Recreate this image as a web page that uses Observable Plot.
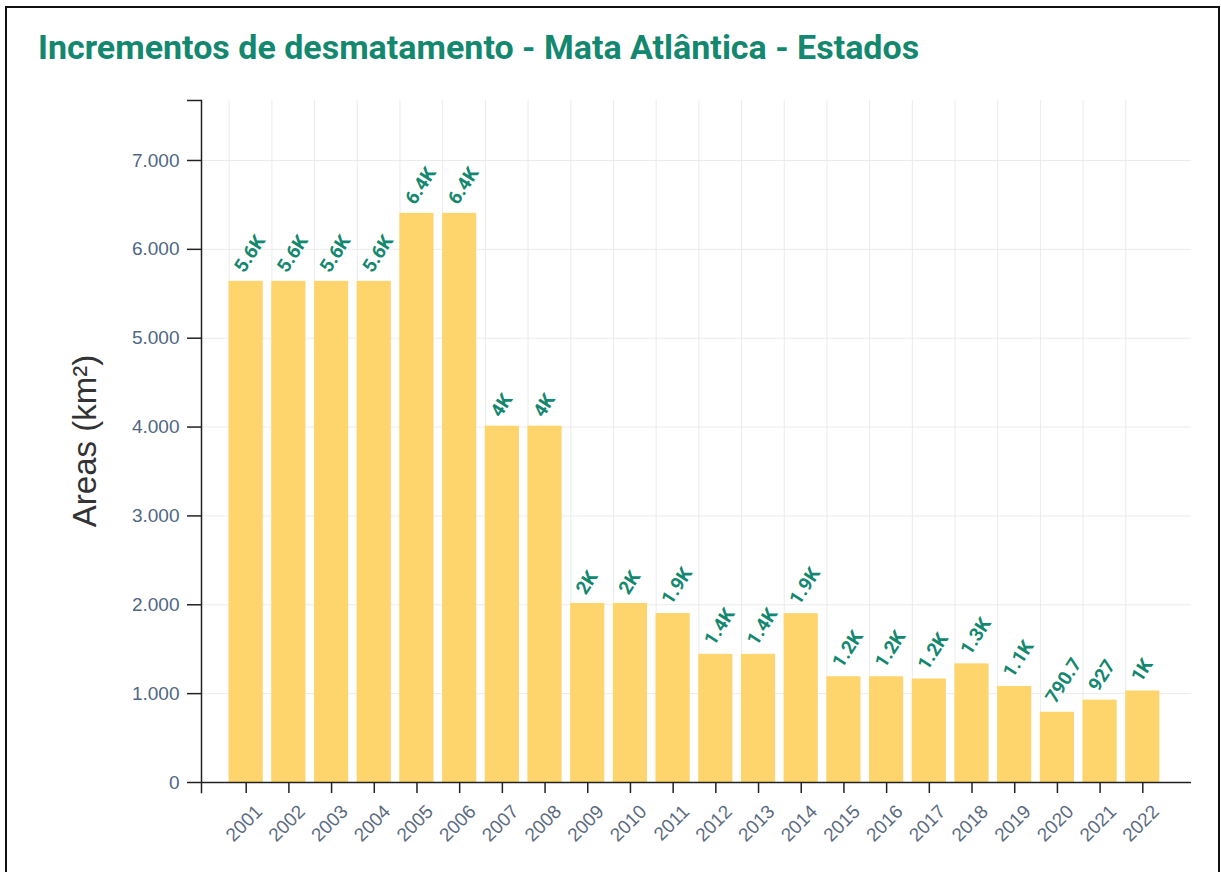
<!DOCTYPE html>
<html>
<head>
<meta charset="utf-8">
<script src="https://cdn.jsdelivr.net/npm/d3@7"></script>
<script src="https://cdn.jsdelivr.net/npm/@observablehq/plot@0.6"></script>
<style>
  html, body { margin: 0; padding: 0; background: #fff; width: 1221px; height: 872px; overflow: hidden; }
  #box { position: absolute; left: 5px; top: 6px; width: 1211px; height: 900px; border: 2px solid #111; }
  #title { position: absolute; left: 38px; top: 30px; font-family: Roboto, sans-serif; font-weight: 700; font-size: 34px; line-height: 34px; color: #14876f; white-space: nowrap; }
  #chart { position: absolute; left: 0; top: 0; }
  #ytitle { position: absolute; left: 84px; top: 441px; transform: translate(-50%, -50%) rotate(-90deg); font-family: "Liberation Sans", Arial, sans-serif; font-size: 33px; line-height: 33px; color: #333; white-space: nowrap; }
</style>
</head>
<body>
<div id="box"></div>
<div id="chart"></div>
<div id="title">Incrementos de desmatamento - Mata Atlântica - Estados</div>
<div id="ytitle">Areas (km²)</div>
<script>
const years = ["2001","2002","2003","2004","2005","2006","2007","2008","2009","2010","2011","2012","2013","2014","2015","2016","2017","2018","2019","2020","2021","2022"];
const areas = [5640, 5640, 5640, 5640, 6405, 6405, 4010, 4010, 2015, 2015, 1902, 1442, 1442, 1900, 1190, 1190, 1165, 1335, 1080, 790.7, 927, 1030];
const valueLabels = ["5.6K","5.6K","5.6K","5.6K","6.4K","6.4K","4K","4K","2K","2K","1.9K","1.4K","1.4K","1.9K","1.2K","1.2K","1.2K","1.3K","1.1K","790.7","927","1K"];
const yTicks = [0, 1000, 2000, 3000, 4000, 5000, 6000, 7000];
const yMax = 7675;

const data = years.map((y, i) => ({year: y, value: areas[i], label: valueLabels[i]}));
const fmt = d => d3.format(",")(d).replace(/,/g, ".");

const chart = Plot.plot({
  width: 1221,
  height: 872,
  marginLeft: 201,
  marginRight: 30,
  marginTop: 100,
  marginBottom: 90,
  style: {fontFamily: "'Liberation Sans', Arial, sans-serif", background: "transparent"},
  x: {domain: years, paddingInner: 0.2, paddingOuter: 0.6, insetLeft: 2, insetRight: 6, round: false, label: null, axis: null},
  y: {domain: [0, yMax], label: null, axis: null},
  marks: [
    Plot.gridY(yTicks, {stroke: "#ebebeb", strokeOpacity: 1}),
    Plot.gridX(years, {stroke: "#ebebeb", strokeOpacity: 1, dx: -17}),
    Plot.barY(data, {x: "year", y: "value", fill: "#fed56d"}),
    Plot.text(data, {x: "year", y: "value", text: "label", rotate: -57, textAnchor: "start", lineAnchor: "middle", dy: -11, dx: -7,
      fill: "#14876f", fontWeight: "bold", fontSize: 19, fontFamily: "Roboto, sans-serif"}),
    Plot.ruleY([0], {stroke: "#222", strokeWidth: 1.5}),
    Plot.frame({anchor: "left", stroke: "#222", strokeWidth: 1.5, insetBottom: -10}),
    Plot.axisY(yTicks, {tickSize: 14, tickPadding: 8, tickFormat: fmt, fontSize: 19, fill: "#506784", stroke: "#222", strokeWidth: 1.5}),
    Plot.axisY([yMax], {tickSize: 14, tickFormat: () => "", stroke: "#222", strokeWidth: 1.5}),
    Plot.axisX(years, {tickSize: 11, tickFormat: () => "", stroke: "#222", strokeWidth: 1.5, label: null}),
    Plot.text(years, {x: d => d, frameAnchor: "bottom", text: d => d, rotate: -45, textAnchor: "end", lineAnchor: "middle",
      dx: 13, dy: 26, fontSize: 19, fill: "#5b6b80"})
  ]
});
document.getElementById("chart").appendChild(chart);
</script>
</body>
</html>
